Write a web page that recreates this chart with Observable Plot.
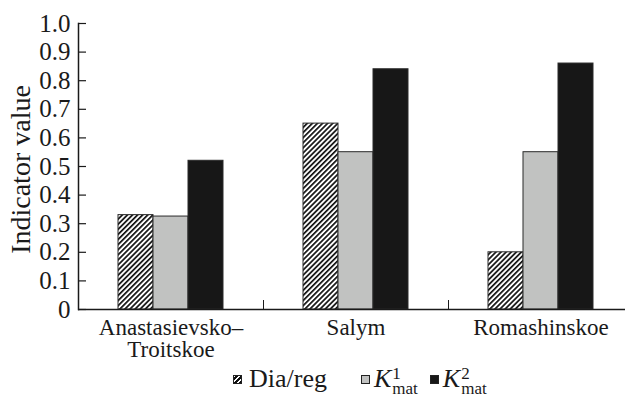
<!DOCTYPE html>
<html>
<head>
<meta charset="utf-8">
<script src="https://cdn.jsdelivr.net/npm/d3@7"></script>
<script src="https://cdn.jsdelivr.net/npm/@observablehq/plot@0.6"></script>
<style>
  html, body { margin: 0; padding: 0; background: #fff; }
  #wrap { position: relative; width: 625px; height: 397px; overflow: hidden; font-family: "Liberation Serif", "Times New Roman", serif; color: #1a1a1a; }
  #legend { position: absolute; left: 233px; top: 364px; display: flex; align-items: center; font-size: 26px; line-height: 1; white-space: nowrap; }
  .sw { display: inline-block; width: 7px; height: 7px; border: 1px solid #222; box-sizing: content-box; }
  .sw.hatch { background: repeating-linear-gradient(-45deg, #111 0 2px, #fff 2px 3.5px); }
  .sw.gray { background: #c1c2c1; }
  .sw.black { background: #171717; }
  .ss { display: inline-flex; flex-direction: column; font-size: 17px; line-height: 0.9; position: relative; top: 2px; margin-left: 1px; }
</style>
</head>
<body>
<div id="wrap">
  <div id="chart"></div>
  <div id="legend">
    <span class="sw hatch"></span><span style="margin-left:7px">Dia/reg</span>
    <span class="sw gray" style="margin-left:34px"></span><i style="margin-left:4px">K</i><span class="ss"><span>1</span><span>mat</span></span>
    <span class="sw black" style="margin-left:12px"></span><i style="margin-left:4px">K</i><span class="ss"><span>2</span><span>mat</span></span>
  </div>
</div>
<script>
const categories = ["Anastasievsko–\nTroitskoe", "Salym", "Romashinskoe"];
const seriesNames = ["Dia/reg", "K1mat", "K2mat"];
const diaReg = [0.33, 0.65, 0.20];
const kmat1 = [0.325, 0.55, 0.55];
const kmat2 = [0.52, 0.84, 0.86];
const yTicks = [0, 0.1, 0.2, 0.3, 0.4, 0.5, 0.6, 0.7, 0.8, 0.9, 1.0];
const seriesFills = ["url(#hatch)", "#c1c2c1", "#171717"];

const seriesValues = [diaReg, kmat1, kmat2];
const data = [];
categories.forEach((c, i) => {
  seriesNames.forEach((s, j) => data.push({category: c, series: s, value: seriesValues[j][i]}));
});

const serif = "'Liberation Serif', 'Times New Roman', serif";

const chart = Plot.plot({
  width: 625,
  height: 362,
  marginLeft: 78,
  marginRight: -8,
  marginTop: 23,
  marginBottom: 53,
  style: {fontFamily: serif, color: "#1a1a1a", background: "#fff"},
  fx: {domain: categories, padding: 0, label: null, axis: null},
  x: {domain: seriesNames, axis: null, paddingInner: 0, paddingOuter: 1.09},
  y: {domain: [0, 1], axis: null},
  color: {domain: seriesNames, range: seriesFills},
  marks: [
    Plot.barY(data, {fx: "category", x: "series", y: "value", fill: "series", stroke: "#2a2a2a", strokeWidth: 1}),
    Plot.ruleY([0], {stroke: "#1a1a1a", strokeWidth: 1.5}),
    Plot.ruleY(yTicks, {y: d => d, facetAnchor: "left", insetRight: 177, stroke: "#1a1a1a", strokeWidth: 1.2}),
    Plot.frame({anchor: "left", facetAnchor: "left", stroke: "#1a1a1a", strokeWidth: 1.5}),
    Plot.axisY({ticks: yTicks, tickSize: 0, tickPadding: 8, fontSize: 25, label: null, fontFamily: serif,
      tickFormat: d => d === 0 ? "0" : d.toFixed(1)}),
    Plot.axisFx({anchor: "bottom", tickSize: 0, tickPadding: 10, fontSize: 23, label: null, lineHeight: 0.96, fontFamily: serif}),
    Plot.axisFx({anchor: "bottom", tickSize: -9, dx: -92.5, tickFormat: () => "", label: null}),
    Plot.text(["Indicator value"], {frameAnchor: "left", facetAnchor: "left", rotate: -90, dx: -57, dy: 3, fontSize: 28, textAnchor: "middle", lineAnchor: "middle", fontFamily: serif})
  ]
});

const svg = chart.tagName.toLowerCase() === "svg" ? chart : chart.querySelector("svg");
const ns = "http://www.w3.org/2000/svg";
const defs = document.createElementNS(ns, "defs");
const pat = document.createElementNS(ns, "pattern");
pat.setAttribute("id", "hatch");
pat.setAttribute("patternUnits", "userSpaceOnUse");
pat.setAttribute("width", "3.6");
pat.setAttribute("height", "3.6");
pat.setAttribute("patternTransform", "rotate(45)");
const bg = document.createElementNS(ns, "rect");
bg.setAttribute("width", "3.6"); bg.setAttribute("height", "3.6"); bg.setAttribute("fill", "#fff");
const ln = document.createElementNS(ns, "rect");
ln.setAttribute("width", "1.7"); ln.setAttribute("height", "3.6"); ln.setAttribute("fill", "#111");
pat.appendChild(bg); pat.appendChild(ln);
defs.appendChild(pat);
svg.insertBefore(defs, svg.firstChild);

document.getElementById("chart").appendChild(chart);
</script>
</body>
</html>
